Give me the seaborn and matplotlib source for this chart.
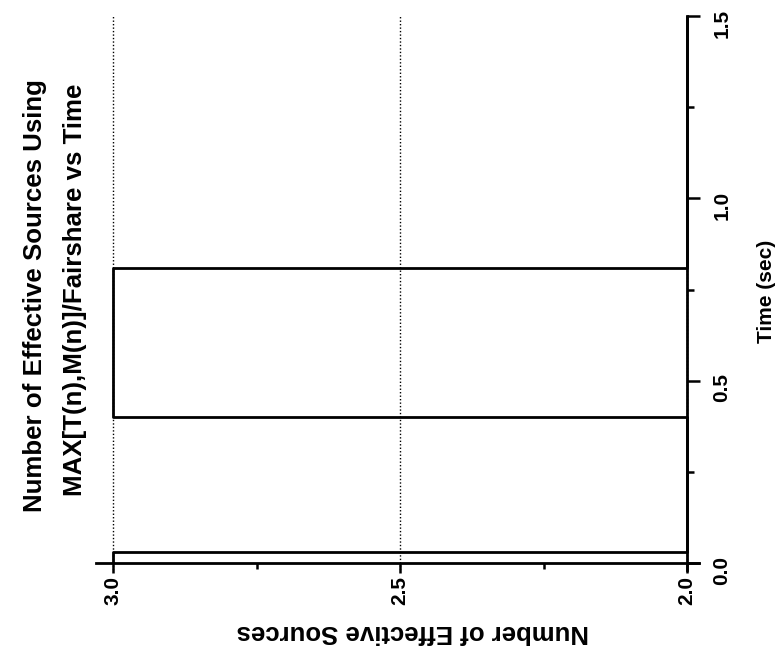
import numpy as np
import pandas as pd
import matplotlib
matplotlib.use("Agg")
import matplotlib.pyplot as plt
from matplotlib import font_manager
from matplotlib.ticker import FixedLocator
import seaborn as sns

# Step changes of the effective-source count over time
change_times = [0.0, 0.03, 0.40, 0.81, 1.5]
effective_sources = [3, 2, 3, 2, 2]

source_ticks = [3.0, 2.5, 2.0]
source_minor = [2.75, 2.25]
time_ticks = [0.0, 0.5, 1.0, 1.5]
time_minor = [0.25, 0.75, 1.25]

title_lines = ["Number of Effective Sources Using", "MAX[T(n),M(n)]/Fairshare vs Time"]
source_label = "Number of Effective Sources"
time_label = "Time (sec)"

sns.set_theme(style="white")
installed = {f.name for f in font_manager.fontManager.ttflist}
narrow = "Liberation Sans Narrow" if "Liberation Sans Narrow" in installed else "Liberation Sans"
plt.rcParams["font.family"] = ["Liberation Sans", "DejaVu Sans"]

df = pd.DataFrame({"time": change_times, "sources": effective_sources})

fig = plt.figure(figsize=(7.83, 6.56), dpi=100)
fig.patch.set_facecolor("white")
ax = fig.add_axes([0.1226, 0.1306, 0.7697, 0.845])
ax.set_facecolor("white")

# The chart is laid out turned a quarter turn: time runs upward, the count runs right-to-left
sns.lineplot(data=df, x="sources", y="time", sort=False, estimator=None,
             color="black", linewidth=2.0, drawstyle="steps-pre", ax=ax, zorder=3)

ax.set_xlim(3.03, 1.98)
ax.set_ylim(-0.02, 1.5)

for side in ("top", "left"):
    ax.spines[side].set_visible(False)
ax.spines["right"].set_position(("data", 2.0))
ax.spines["bottom"].set_position(("data", 0.0))
for side in ("right", "bottom"):
    ax.spines[side].set_linewidth(2.0)
    ax.spines[side].set_color("black")
    ax.spines[side].set_zorder(4)

ax.xaxis.set_major_locator(FixedLocator(source_ticks))
ax.xaxis.set_minor_locator(FixedLocator(source_minor))
ax.yaxis.set_major_locator(FixedLocator(time_ticks))
ax.yaxis.set_minor_locator(FixedLocator(time_minor))
ax.yaxis.tick_right()
ax.set_xticklabels([f"{v:.1f}" for v in source_ticks])
ax.set_yticklabels([f"{v:.1f}" for v in time_ticks])

ax.tick_params(axis="x", which="major", direction="out", length=7, width=1.8,
               color="black", labelrotation=90, pad=2, labelsize=15, bottom=True)
ax.tick_params(axis="x", which="minor", direction="out", length=4, width=1.8,
               color="black", bottom=True)
ax.tick_params(axis="y", which="major", direction="out", length=9, width=1.8,
               color="black", labelrotation=90, pad=9, labelsize=15, right=True, left=False)
ax.tick_params(axis="y", which="minor", direction="out", length=5, width=1.8,
               color="black", right=True, left=False)
for lab in ax.get_xticklabels() + ax.get_yticklabels():
    lab.set_family([narrow, "DejaVu Sans"])
    lab.set_fontweight("bold")
    lab.set_color("black")

ax.grid(axis="x", which="major", linestyle=(0, (1, 1.5)), color="black", linewidth=1.0)
ax.grid(axis="y", visible=False)
ax.set_xlabel("")
ax.set_ylabel("")

# Two-line title, each line anchored on its own baseline
for line, base_x, mid_y in zip(title_lines, (42, 82), (296, 290)):
    fig.text(base_x / 783, 1 - mid_y / 656, line, rotation=90, rotation_mode="anchor",
             ha="center", va="baseline", fontsize=18.6, fontweight="bold",
             family=[narrow, "DejaVu Sans"], color="black")
fig.text(413 / 783, 1 - 632 / 656, source_label, rotation=180, ha="center", va="center",
         fontsize=18.5, fontweight="bold", color="black")
fig.text(766 / 783, 1 - 291 / 656, time_label, rotation=90, ha="center", va="center",
         fontsize=15, fontweight="bold", color="black")

fig.savefig("out.png", dpi=100, facecolor="white")
